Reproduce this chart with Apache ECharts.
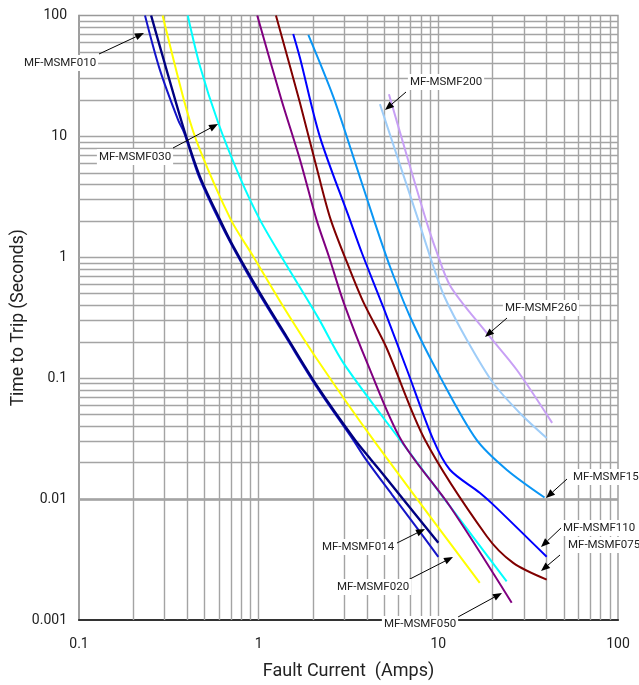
<!DOCTYPE html>
<html>
<head>
<meta charset="utf-8">
<script src="https://cdn.jsdelivr.net/npm/echarts@6/dist/echarts.min.js"></script>
<style>
html,body{margin:0;padding:0;background:#fff;}
#main{width:639px;height:685px;}
</style>
</head>
<body>
<div id="main"></div>
<script>
// ---- Data ----
const seriesNames = ['MF-MSMF010','MF-MSMF014','MF-MSMF020','MF-MSMF030','MF-MSMF050','MF-MSMF075','MF-MSMF110','MF-MSMF150','MF-MSMF200','MF-MSMF260'];

const x010 = [0.233,0.282,0.356,0.385,0.465,0.60,0.715,1.0,1.41,2.12,3.35,3.96,5.52,7.73,10];
const y010 = [100,35.5,13.7,10.7,4.65,2.04,1.23,0.506,0.221,0.083,0.031,0.0212,0.0109,0.0056,0.00333];

const x014 = [0.252,0.313,0.389,0.471,0.609,0.722,1.017,1.43,2.15,3.43,4.22,5.2,10];
const y014 = [100,32.2,10.7,4.65,2.04,1.23,0.506,0.221,0.083,0.031,0.0212,0.0145,0.00435];

const x020 = [0.292,0.397,0.471,0.701,0.933,1.37,2.15,4.34,17.0];
const y020 = [100,16.6,7.73,2.04,1.016,0.392,0.138,0.031,0.00203];

const x030 = [0.403,0.472,0.596,0.783,1.017,1.37,2.15,2.96,6.11,24.0];
const y030 = [100,37.8,12.9,4.65,2.04,0.953,0.314,0.134,0.031,0.00209];

const x050 = [0.982,1.34,1.70,2.10,2.46,2.98,4.06,6.2,11.6,25.6];
const y050 = [100,20.0,6.39,2.04,1.016,0.418,0.129,0.031,0.00872,0.00139];

const x075 = [1.248,1.70,2.14,2.52,3.22,3.85,5.11,8.42,18.6,26.1,40.1];
const y075 = [100,18.8,4.97,2.04,0.788,0.418,0.183,0.031,0.00493,0.00297,0.00216];

const x110 = [1.557,1.70,2.19,3.22,3.76,4.92,6.69,9.37,11.6,17.0,20.2,40.1];
const y110 = [70.4,44.3,9.96,2.04,1.08,0.392,0.1175,0.031,0.0175,0.0113,0.0090,0.00333];

const x150 = [1.89,2.60,3.36,4.38,5.38,6.95,10.2,16.3,24.0,39.0];
const y150 = [69.0,21.3,6.81,2.04,0.839,0.324,0.1035,0.031,0.0175,0.0103];

const x200 = [4.73,6.04,7.73,9.25,10.8,14.4,20.2,28.4,40.1];
const y200 = [18.5,6.16,2.04,0.896,0.474,0.208,0.0912,0.0516,0.032];

const x260 = [5.31,6.7,8.53,9.7,11.7,18.6,27.3,43.0];
const y260 = [22.3,6.81,2.04,1.153,0.574,0.2366,0.1175,0.0427];

const xTickLabels = ['0.1','1','10','100'];
const yTickLabels = ['0.001','0.01','0.1','1','10','100'];

// grid-line values (2..9 per decade, plus decades)
const xGridValues = [0.2,0.3,0.4,0.5,0.6,0.7,0.8,0.9,1,2,3,4,5,6,7,8,9,10,20,30,40,50,60,70,80,90];
const yGridValues = [0.002,0.003,0.004,0.005,0.006,0.007,0.008,0.009,0.01,0.02,0.03,0.04,0.05,0.06,0.07,0.08,0.09,0.1,0.2,0.3,0.4,0.5,0.6,0.7,0.8,0.9,1,2,3,4,5,6,7,8,9,10,20,30,40,50,60,70,80,90];

// ---- Styles ----
const xs = [x010,x014,x020,x030,x050,x075,x110,x150,x200,x260];
const ys = [y010,y014,y020,y030,y050,y075,y110,y150,y200,y260];
const colors = ['#1414c8','#000080','#ffff00','#00ffff','#800080','#800000','#0000ff','#0a96f5','#9fcdf8','#c8a0f5'];
const widths = [2,2.4,2,2,2,2,2,2,2,2];
const FONT = 'Roboto, "Liberation Sans", Arial, sans-serif';

const chart = echarts.init(document.getElementById('main'), null, {renderer:'canvas'});

const lineSeries = seriesNames.map((name, i) => ({
  name: name,
  type: 'line',
  data: xs[i].map((x, j) => [x, ys[i][j]]),
  showSymbol: false,
  smooth: 0.3,
  lineStyle: {color: colors[i], width: widths[i]},
  itemStyle: {color: colors[i]},
  z: 5,
  silent: true
}));

const gridSeries = {
  type: 'line',
  data: [[0.1, 100]],
  showSymbol: false,
  lineStyle: {width: 0},
  silent: true,
  z: 1,
  markLine: {
    z: 1,
    silent: true,
    symbol: ['none','none'],
    label: {show: false},
    lineStyle: {color: '#a4a4a4', width: 1.4, type: 'solid'},
    emphasis: {disabled: true},
    animation: false,
    data: xGridValues.map(v => ({xAxis: v})).concat(yGridValues.map(v => ({yAxis: v})))
  }
};

chart.setOption({
  animation: false,
  backgroundColor: '#ffffff',
  grid: {left: 79, right: 21, top: 15.5, bottom: 65, show: true, borderColor: '#999', borderWidth: 1.4,
         containLabel: false, outerBoundsMode: 'none', z: 0},
  xAxis: {
    type: 'log', logBase: 10, min: 0.1, max: 100,
    name: 'Fault Current  (Amps)', nameLocation: 'middle', nameGap: 42,
    nameTextStyle: {fontFamily: FONT, fontSize: 18, color: '#222'},
    axisLine: {show: true, onZero: false, lineStyle: {color: '#333', width: 2.2}},
    axisTick: {show: false},
    splitLine: {show: false},
    axisLabel: {fontFamily: FONT, fontSize: 14, color: '#222', margin: 17,
      formatter: v => xTickLabels[Math.round(Math.log10(v)) + 1]}
  },
  yAxis: {
    type: 'log', logBase: 10, min: 0.001, max: 100,
    name: 'Time to Trip (Seconds)', nameLocation: 'middle', nameGap: 51, nameMoveOverlap: false,
    nameTextStyle: {fontFamily: FONT, fontSize: 17.5, color: '#222'},
    axisLine: {show: true, onZero: false, lineStyle: {color: '#999', width: 1.6}},
    axisTick: {show: false},
    splitLine: {show: false},
    axisLabel: {fontFamily: FONT, fontSize: 14, color: '#222', margin: 12,
      formatter: v => yTickLabels[Math.round(Math.log10(v)) + 3]}
  },
  series: [gridSeries].concat(lineSeries)
});

// ---- Annotations (layout, pixel positions) ----
const annotations = [
  {text:'MF-MSMF010', tx:60,  ty:63,  align:'center', ax:99,  ay:54,  hx:144, hy:33},
  {text:'MF-MSMF030', tx:135, ty:157, align:'center', ax:173, ay:148, hx:218, hy:124},
  {text:'MF-MSMF200', tx:446, ty:82,  align:'center', ax:406, ay:92,  hx:385, hy:110},
  {text:'MF-MSMF260', tx:541, ty:308, align:'center', ax:507, ay:318, hx:485, hy:337},
  {text:'MF-MSMF150', tx:571, ty:477, align:'left',   ax:567, ay:479, hx:546, hy:498},
  {text:'MF-MSMF110', tx:561, ty:528, align:'left',   ax:562, ay:527, hx:541, hy:547},
  {text:'MF-MSMF075', tx:566, ty:545, align:'left',   ax:560, ay:555, hx:541, hy:571},
  {text:'MF-MSMF014', tx:358, ty:547, align:'center', ax:397, ay:543, hx:425, hy:529},
  {text:'MF-MSMF020', tx:373, ty:587, align:'center', ax:408, ay:580, hx:453, hy:557},
  {text:'MF-MSMF050', tx:420, ty:624, align:'center', ax:458, ay:617, hx:502, hy:593}
];

const graphics = [];
annotations.forEach(a => {
  const dx = a.hx - a.ax, dy = a.hy - a.ay;
  const len = Math.sqrt(dx*dx + dy*dy);
  const ux = dx/len, uy = dy/len;
  const L = 9, W = 3.6;
  const bx = a.hx - ux*L, by = a.hy - uy*L;
  graphics.push({type:'line', silent:true, z:10,
    shape:{x1:a.ax, y1:a.ay, x2:bx, y2:by}, style:{stroke:'#000', lineWidth:1}});
  graphics.push({type:'polygon', silent:true, z:10,
    shape:{points:[[a.hx,a.hy],[bx - uy*W, by + ux*W],[bx + uy*W, by - ux*W]]}, style:{fill:'#000'}});
  graphics.push({type:'text', silent:true, z:11, x:a.tx, y:a.ty,
    style:{text:a.text, fill:'#222', font:'11.5px ' + FONT, align:a.align, verticalAlign:'middle',
      backgroundColor:'#fff', padding:[2,2,2,2]}});
});
chart.setOption({graphic: graphics});
</script>
</body>
</html>
